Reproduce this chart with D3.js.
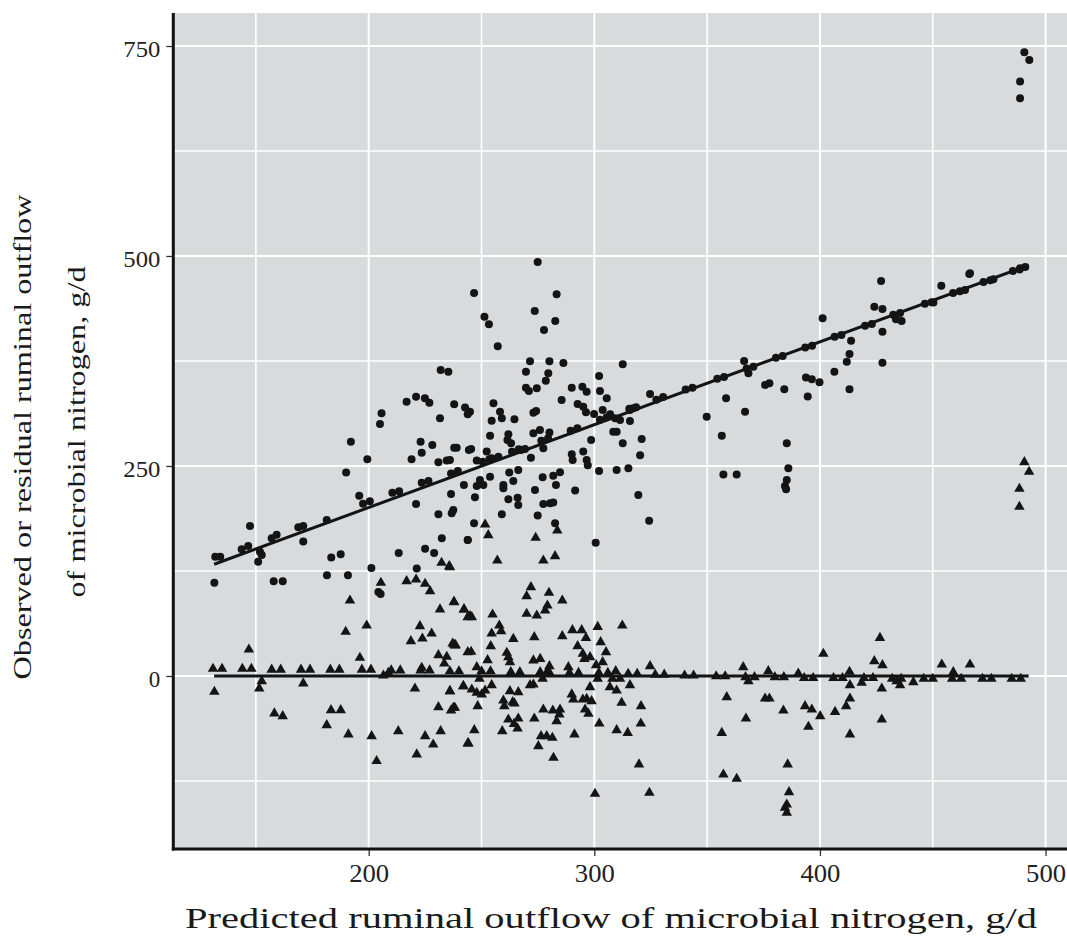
<!DOCTYPE html>
<html>
<head>
  <meta charset="UTF-8">
  <title>Predicted vs observed microbial nitrogen</title>
  <style>
    body { margin: 0; background: #fff; }
  </style>
</head>
<body>
<div id="container"></div>
<script src="https://cdn.jsdelivr.net/npm/d3@7"></script>
<script>

  // axis ticks
  var xTicks = [200, 300, 400, 500];
  var xMinor = [150, 250, 350, 450];
  var yTicks = [0, 250, 500, 750];
  var yMinor = [-125, 125, 375, 625];

  // fitted lines: observed vs predicted, residual zero line
  var fitObserved = [[131.5, 133], [492.5, 489]];
  var fitResidual = [[131.5, 0], [492.5, 0]];

  // observed outflow (circles): [predicted, observed]
  var observed = [
    [490.6,742.5],[492.8,733.4],[488.7,707.6],[488.7,687.7],[466.2,478.6],[453.8,464.7],
    [427.1,470.2],[466.5,479.4],[401.2,425.8],[424.1,439.7],[427.7,437],[427.7,409.9],
    [413.8,399.2],[413.1,383.3],[411.9,374.2],[406.4,362.3],[427.7,373],[413.1,341.3],
    [366.4,375],[368.3,360.3],[375.7,346.5],[377.6,348.4],[384.2,341.3],[393.8,355.2],
    [396.4,353.2],[399.8,349.6],[394.6,332.6],[358.4,330.6],[366.8,314.7],[356.5,286.1],
    [385.3,277],[386,247.2],[385.3,233.4],[384.5,226.2],[385,222.2],[357.2,240],[363.1,240],
    [433.7,424.6],[436.2,422.6],[450.3,444.5],[464.3,459.5],[476.9,472.2],[488.7,485.3],
    [274.9,492.9],[246.7,456],[283.3,454.4],[251.3,427.8],[253.3,418.6],[273.6,434.5],
    [282.7,422.6],[277.7,411.9],[257.2,392.5],[271.5,374.6],[280.1,374.6],[286.3,372.6],
    [312.6,371],[269.7,362.3],[279.6,360.3],[278.5,351.6],[302.1,357.2],[269.7,343.2],
    [271,339.3],[274.5,342.5],[290,343.2],[294.7,344.4],[296.6,338.5],[302.5,339.3],
    [305.5,330.6],[285.5,328.6],[324.7,335.7],[244.9,314.7],[255.3,324.6],[258.2,314.7],
    [259,306.8],[264.6,305.6],[254.5,304],[274.2,315.5],[273,313.5],[292.6,323.8],
    [295.1,320.6],[296.3,313.9],[299.9,311.9],[303.7,316.7],[307,311.5],[309.2,306.8],
    [311.4,304.8],[315.8,303.6],[315.8,316.7],[317.3,318.7],[349.8,308.7],[253.8,286.1],
    [261.9,287.7],[261.5,281],[273,288.9],[275.9,292.8],[280.1,290],[263.1,277],[267.5,269],
    [269.3,270.3],[277.4,271],[298.6,281],[308.4,290.9],[309.9,290.9],[312.6,277],[321,282.1],
    [236,257.2],[239,271.8],[245.4,270.3],[247.9,256.4],[252.3,267.1],[254.5,259.1],
    [257.5,261.1],[271.9,259.9],[290,263.9],[290.4,257.2],[295.1,267.1],[296.6,257.2],
    [297.1,250.8],[320.3,262.7],[302.1,244.1],[309.9,245.2],[315.1,247.2],[247.9,226.2],
    [250.8,227.4],[249.3,233.4],[253.8,237.3],[259.7,227.4],[259.7,223.4],[262.3,242.1],
    [264.1,232.1],[266.3,245.2],[277.1,236.5],[281.8,238.5],[284.8,242.5],[283,227.4],
    [273.7,221.4],[291.5,220.7],[247.1,212.7],[261.9,210.3],[266,212.3],[266.3,203.6],
    [277.4,204.8],[280.4,205.6],[281.8,206.4],[259,192.5],[274.9,190.9],[282.6,181.8],
    [246.7,181.8],[319.5,215.5],[324.3,184.9],[243.9,161.9],[300.6,158.7],
    [231.9,364.3],[235.3,362.3],[221,332.5],[216.8,326.6],[224.9,330.6],[226.9,325.4],
    [237.9,323.4],[242.7,319.5],[243.9,311.5],[205.7,312.7],[205,300],[231.6,306.8],
    [192.1,279],[223,279],[223.5,265.9],[228.2,275],[237.9,271.8],[219,258],[230.9,254.4],
    [234.6,256.4],[199.4,258],[244.4,269],[190,242.1],[195.8,214.7],[221,204.8],[230.9,192.5],
    [236.5,216.7],[237.5,197.6],[236.8,193.6],[242.2,227.4],
    [147.4,178.6],[132,142],[134.2,142],[143.7,150.8],[146.6,154.8],[151.8,148],[152.6,144],
    [151,136],[157,164],[159.2,168],[168.8,177],[171,178.6],[171,160],[181.4,185.7],
    [131.6,111],[183.4,141],[187.6,145],[157.9,112.7],[161.9,112.7],[181.5,120],[190.8,120],
    [201.2,128.6],[213.3,146.4],[225,151.6],[229,146.4],[221.3,128],[232.4,164],[243.9,162],
    [204.3,100],[205.3,97.6],
    // points sitting on the fitted line
    [197.5,205],[200.5,208],[210.5,218],[213.5,220],[223.5,230],[226.5,232],[236.5,241],
    [239.5,244],[250.5,255],[253.5,258],[263.5,267],[266.5,270],[276.5,280],[279.5,283],
    [289.5,292],[292.5,295],[302.5,305],[305.5,308],[315.5,318],[318.5,320],[327.5,329],
    [330.5,332],[340.5,341],[343.5,343],[354.5,354],[357.5,356],[367.5,366],[370.5,368],
    [380.5,379],[383.5,381],[393.5,391],[396.5,393],[406.5,404],[409.5,406],[420,417],
    [423,419],[432.5,430],[435.5,432],[446.5,443],[449.5,445],[459,456],[462,458],
    [472.5,469],[475.5,471],[485.5,482],[488.5,484],[491,487]
  ];

  // residual outflow (triangles): [predicted, residual]
  var residual = [
    [490.6,254],[492.7,242.5],[488.4,222.2],[488.4,200.8],
    [426.6,44.8],[401.5,25.8],[424.1,17],[427.7,12.3],[454,13.1],[466.5,13.1],[366,9.9],
    [377.1,5.2],[413.1,4.4],[390.4,2.4],[459.1,4],[368.3,-6.8],[413.3,-11.5],[418.5,-8.7],
    [427.4,-15.5],[434,-6.8],[435.5,-11.5],[441.4,-8],[358.7,-25.8],[375.7,-27.4],
    [377.6,-27.4],[413.3,-27.4],[383.8,-41.7],[393.4,-36.5],[396.4,-40.5],[400.1,-48.4],
    [406.7,-43.3],[411.6,-36.5],[367.2,-51.2],[394.9,-61.1],[427.4,-52.4],[413.3,-70.2],
    [356.5,-68.3],[385.7,-105.9],[357.2,-117.9],[363.1,-123],[386.3,-138.9],[385.3,-153.6],
    [384.5,-157.5],[385.3,-163.5],
    [251.6,179.7],[253,167],[274,163.9],[283.6,172.6],[257,136.9],[277.4,136.9],[282.6,142.1],
    [236,129],[271.9,105.2],[279.9,98.4],[270,94.4],[285.8,89.3],[279.2,83.3],[278.2,77.4],
    [237.8,87.3],[242.3,78.6],[244.9,70.6],[245.7,69.4],[254.9,72.6],[270,73.4],[274.5,71.4],
    [257.9,59.5],[258.7,52.8],[254.5,50],[264.1,43.6],[273.4,45.6],[285.8,46.8],[290.3,54],
    [294.4,54],[296.3,44.8],[301.5,57.9],[312.4,59.5],[237.8,36.9],[238.3,35.7],[254.1,34.9],
    [245.4,28.2],[292.6,34.9],[302.8,39.7],[261.2,27],[261.9,21.8],[305.2,27.8],[294.9,25.8],
    [295.6,19.8],[298.1,21.8],[252.7,18.2],[262.6,15.9],[273,17.9],[276,19.8],[280.1,11.1],
    [279.2,5.2],[303.7,15.9],[300.8,12.3],[324.7,11.1],[247.9,9.9],[288.5,9.9],[309.5,5.2],
    [249.1,-4],[277.1,-4],[301.5,-4],[308,-4],[311.4,-4],[241.9,-12.7],[245.7,-16.7],
    [247.9,-20.6],[250.1,-22.6],[251.6,-17.9],[254.5,-11.5],[271.5,-11.5],[273,-10.7],
    [298.1,-13.9],[306.9,-13.9],[309.9,-17.9],[315.8,-11.5],[236,-18.7],[262.6,-18.7],
    [266.3,-19.9],[290,-22.6],[290.7,-28.6],[294.9,-28.6],[296.6,-27.8],[298.8,-30.6],
    [312.1,-32.5],[259.7,-29.8],[260.1,-36.5],[263.8,-31.8],[264.6,-33.3],[248.3,-36.5],
    [237.5,-38.5],[320.7,-36.5],[277.4,-40.5],[281.6,-41.7],[284.8,-40.5],[284.5,-46.4],
    [295.9,-40.5],[297.4,-45.6],[261.9,-52.4],[266.3,-51.2],[264.4,-57.6],[266,-63.1],
    [273.4,-51.2],[283.3,-54.4],[302.2,-57.2],[320.6,-57.2],[246.8,-65.1],[259.2,-66.3],
    [309.9,-65.1],[314.8,-68.3],[291.2,-70.2],[276.4,-72.2],[278.9,-72.2],[281.4,-74.2],
    [275.2,-84.1],[244.2,-80.9],[281.9,-98],[319.8,-105.9],[300.3,-140.9],[324.4,-139.7],
    [146.9,30.9],[152.6,-6.7],[151.5,-15.5],[131.6,-19.4],[171,-9.5],[158.2,-45.2],
    [161.9,-48.4],[183.3,-41.3],[187.6,-41.3],[181.4,-59.1],[191,-70.2],[201.3,-72.2],
    [203.5,-101.9],[213.1,-66.3],[221.3,-94],[225,-72.2],[228.6,-82.2],[231.9,-66.3],
    [243.9,-80.9],[220.5,-15.5],[230.9,-37.7],[236.5,-41.7],[238.2,-38.5],[236,-18.7],
    [242,-12.7],[243.9,27.8],[191.7,89.3],[189.8,52],[199.1,59.5],[196.1,21],[205.4,110.3],
    [216.8,112.3],[221,114.3],[225,109.1],[227.2,100.4],[232.3,134.1],[235.7,130.1],
    [231.6,78.6],[237.8,87.7],[242.2,78.6],[243.9,69.4],[222.7,58.7],[227.9,50],[218.7,40.9],
    [223.8,44],[237.2,38.1],[238.5,36.1],[230.9,24.2],[234.6,22.2],[233.5,14.3],[223.5,9.1],
    [206.5,0],[208.7,3.2],
    // points sitting on the zero line
    [131,8],[135,8],[144,8],[148,8],[157,7],[161,7],[170,7],[174,7],[183,7],[187,7],
    [197,7],[201,7],[210,6],[214,6],[223,6],[227,6],[236,5],[240,5],[250,5],[254,5],
    [263,4],[267,4],[276,4],[280,4],[289,3],[293,3],[302,3],[306,3],[315,2],[319,2],
    [327,1],[331,1],[340,0],[344,0],[354,-1],[358,-1],[367,-2],[371,-2],[380,-2],[384,-2],
    [393,-3],[397,-3],[406,-3],[410,-3],[419.5,-3],[423.5,-3],[432,-4],[436,-4],[446,-4],
    [450,-4],[458.6,-4],[462.6,-4],[472,-4],[476,-4],[485,-4],[489,-4]
  ];

  // pick a Times-like serif that is actually installed
  function pickSerif() {
    var ctx = document.createElement("canvas").getContext("2d");
    var probe = "Predicted ruminal outflow 0123456789";
    ctx.font = "40px monospace";
    var base = ctx.measureText(probe).width;
    var list = ["Liberation Serif", "Tinos", "Times New Roman", "Nimbus Roman", "Noto Serif", "DejaVu Serif"];
    for (var i = 0; i < list.length; i++) {
      ctx.font = "40px '" + list[i] + "', monospace";
      if (Math.abs(ctx.measureText(probe).width - base) > 0.5) return "'" + list[i] + "', serif";
    }
    return "serif";
  }
  var serif = pickSerif();

  var W = 1067, H = 948;
  var pLeft = 173.3, pRight = 1067, pTop = 13, pBottom = 849;
  var ink = "#141414";

  var x = d3.scaleLinear().domain([113.4, 509.5]).range([pLeft, pRight]);
  var y = d3.scaleLinear().domain([-206, 789.3]).range([pBottom, pTop]);

  var svg = d3.select("#container").append("svg")
      .attr("width", W).attr("height", H)
      .style("font-family", serif);

  // panel
  svg.append("rect")
    .attr("x", pLeft).attr("y", pTop)
    .attr("width", pRight - pLeft).attr("height", pBottom - pTop)
    .attr("fill", "#d9dadc");

  var grid = svg.append("g");
  grid.selectAll(".vmin").data(xMinor).enter().append("line")
    .attr("x1", d => x(d)).attr("x2", d => x(d)).attr("y1", pTop).attr("y2", pBottom)
    .attr("stroke", "#fff").attr("stroke-width", 1.6);
  grid.selectAll(".hmin").data(yMinor).enter().append("line")
    .attr("x1", pLeft).attr("x2", pRight).attr("y1", d => y(d)).attr("y2", d => y(d))
    .attr("stroke", "#fff").attr("stroke-width", 1.6);
  grid.selectAll(".vmaj").data(xTicks).enter().append("line")
    .attr("x1", d => x(d)).attr("x2", d => x(d)).attr("y1", pTop).attr("y2", pBottom)
    .attr("stroke", "#fff").attr("stroke-width", 2);
  grid.selectAll(".hmaj").data(yTicks).enter().append("line")
    .attr("x1", pLeft).attr("x2", pRight).attr("y1", d => y(d)).attr("y2", d => y(d))
    .attr("stroke", "#fff").attr("stroke-width", 2);

  // fitted lines
  var line = d3.line().x(d => x(d[0])).y(d => y(d[1]));
  [fitObserved, fitResidual].forEach(function(f) {
    svg.append("path").attr("d", line(f))
      .attr("fill", "none").attr("stroke", ink).attr("stroke-width", 3);
  });

  // points
  svg.append("g").selectAll("circle").data(observed).enter().append("circle")
    .attr("cx", d => x(d[0])).attr("cy", d => y(d[1])).attr("r", 4)
    .attr("fill", ink);

  var tri = d3.symbol().type(d3.symbolTriangle).size(48);
  svg.append("g").selectAll("path").data(residual).enter().append("path")
    .attr("d", tri)
    .attr("transform", d => "translate(" + x(d[0]) + "," + (y(d[1]) - 0.5) + ")")
    .attr("fill", ink);

  // axes
  var xAxis = svg.append("g")
    .attr("transform", "translate(0," + pBottom + ")")
    .call(d3.axisBottom(x).tickValues(xTicks).tickSize(7).tickFormat(d3.format("d")));
  xAxis.attr("font-family", null);
  xAxis.select(".domain").remove();
  xAxis.selectAll("line").attr("stroke", "#333").attr("stroke-width", 1.3);
  xAxis.selectAll("text")
    .attr("y", 33).attr("dy", null)
    .attr("font-size", 25).attr("textLength", 40).attr("lengthAdjust", "spacingAndGlyphs")
    .attr("fill", "#222");

  var yAxis = svg.append("g")
    .attr("transform", "translate(" + pLeft + ",0)")
    .call(d3.axisLeft(y).tickValues(yTicks).tickSize(7).tickFormat(d3.format("d")));
  yAxis.attr("font-family", null);
  yAxis.select(".domain").remove();
  yAxis.selectAll("line").attr("stroke", "#333").attr("stroke-width", 1.3);
  yAxis.selectAll("text")
    .attr("x", -13).attr("dy", null).attr("y", 10.7)
    .attr("font-size", 23)
    .attr("fill", "#222");
  yAxis.selectAll("text").filter(d => d !== 0)
    .attr("textLength", 37).attr("lengthAdjust", "spacingAndGlyphs");

  // axis lines
  svg.append("line").attr("x1", pLeft).attr("x2", pLeft).attr("y1", pTop).attr("y2", pBottom + 1.5)
    .attr("stroke", "#111").attr("stroke-width", 3);
  svg.append("line").attr("x1", pLeft - 1.5).attr("x2", pRight).attr("y1", pBottom).attr("y2", pBottom)
    .attr("stroke", "#111").attr("stroke-width", 3);

  // titles
  svg.append("text")
    .attr("x", 611).attr("y", 928)
    .attr("text-anchor", "middle")
    .attr("font-size", 29).attr("fill", "#1a1a1a")
    .attr("textLength", 852).attr("lengthAdjust", "spacingAndGlyphs")
    .text("Predicted ruminal outflow of microbial nitrogen, g/d");

  svg.append("text")
    .attr("transform", "translate(31,437) rotate(-90)")
    .attr("text-anchor", "middle")
    .attr("font-size", 25).attr("fill", "#1a1a1a")
    .attr("textLength", 485).attr("lengthAdjust", "spacingAndGlyphs")
    .text("Observed or residual ruminal outflow");

  svg.append("text")
    .attr("transform", "translate(85,432) rotate(-90)")
    .attr("text-anchor", "middle")
    .attr("font-size", 25).attr("fill", "#1a1a1a")
    .attr("textLength", 331).attr("lengthAdjust", "spacingAndGlyphs")
    .text("of microbial nitrogen, g/d");

</script>
</body>
</html>
